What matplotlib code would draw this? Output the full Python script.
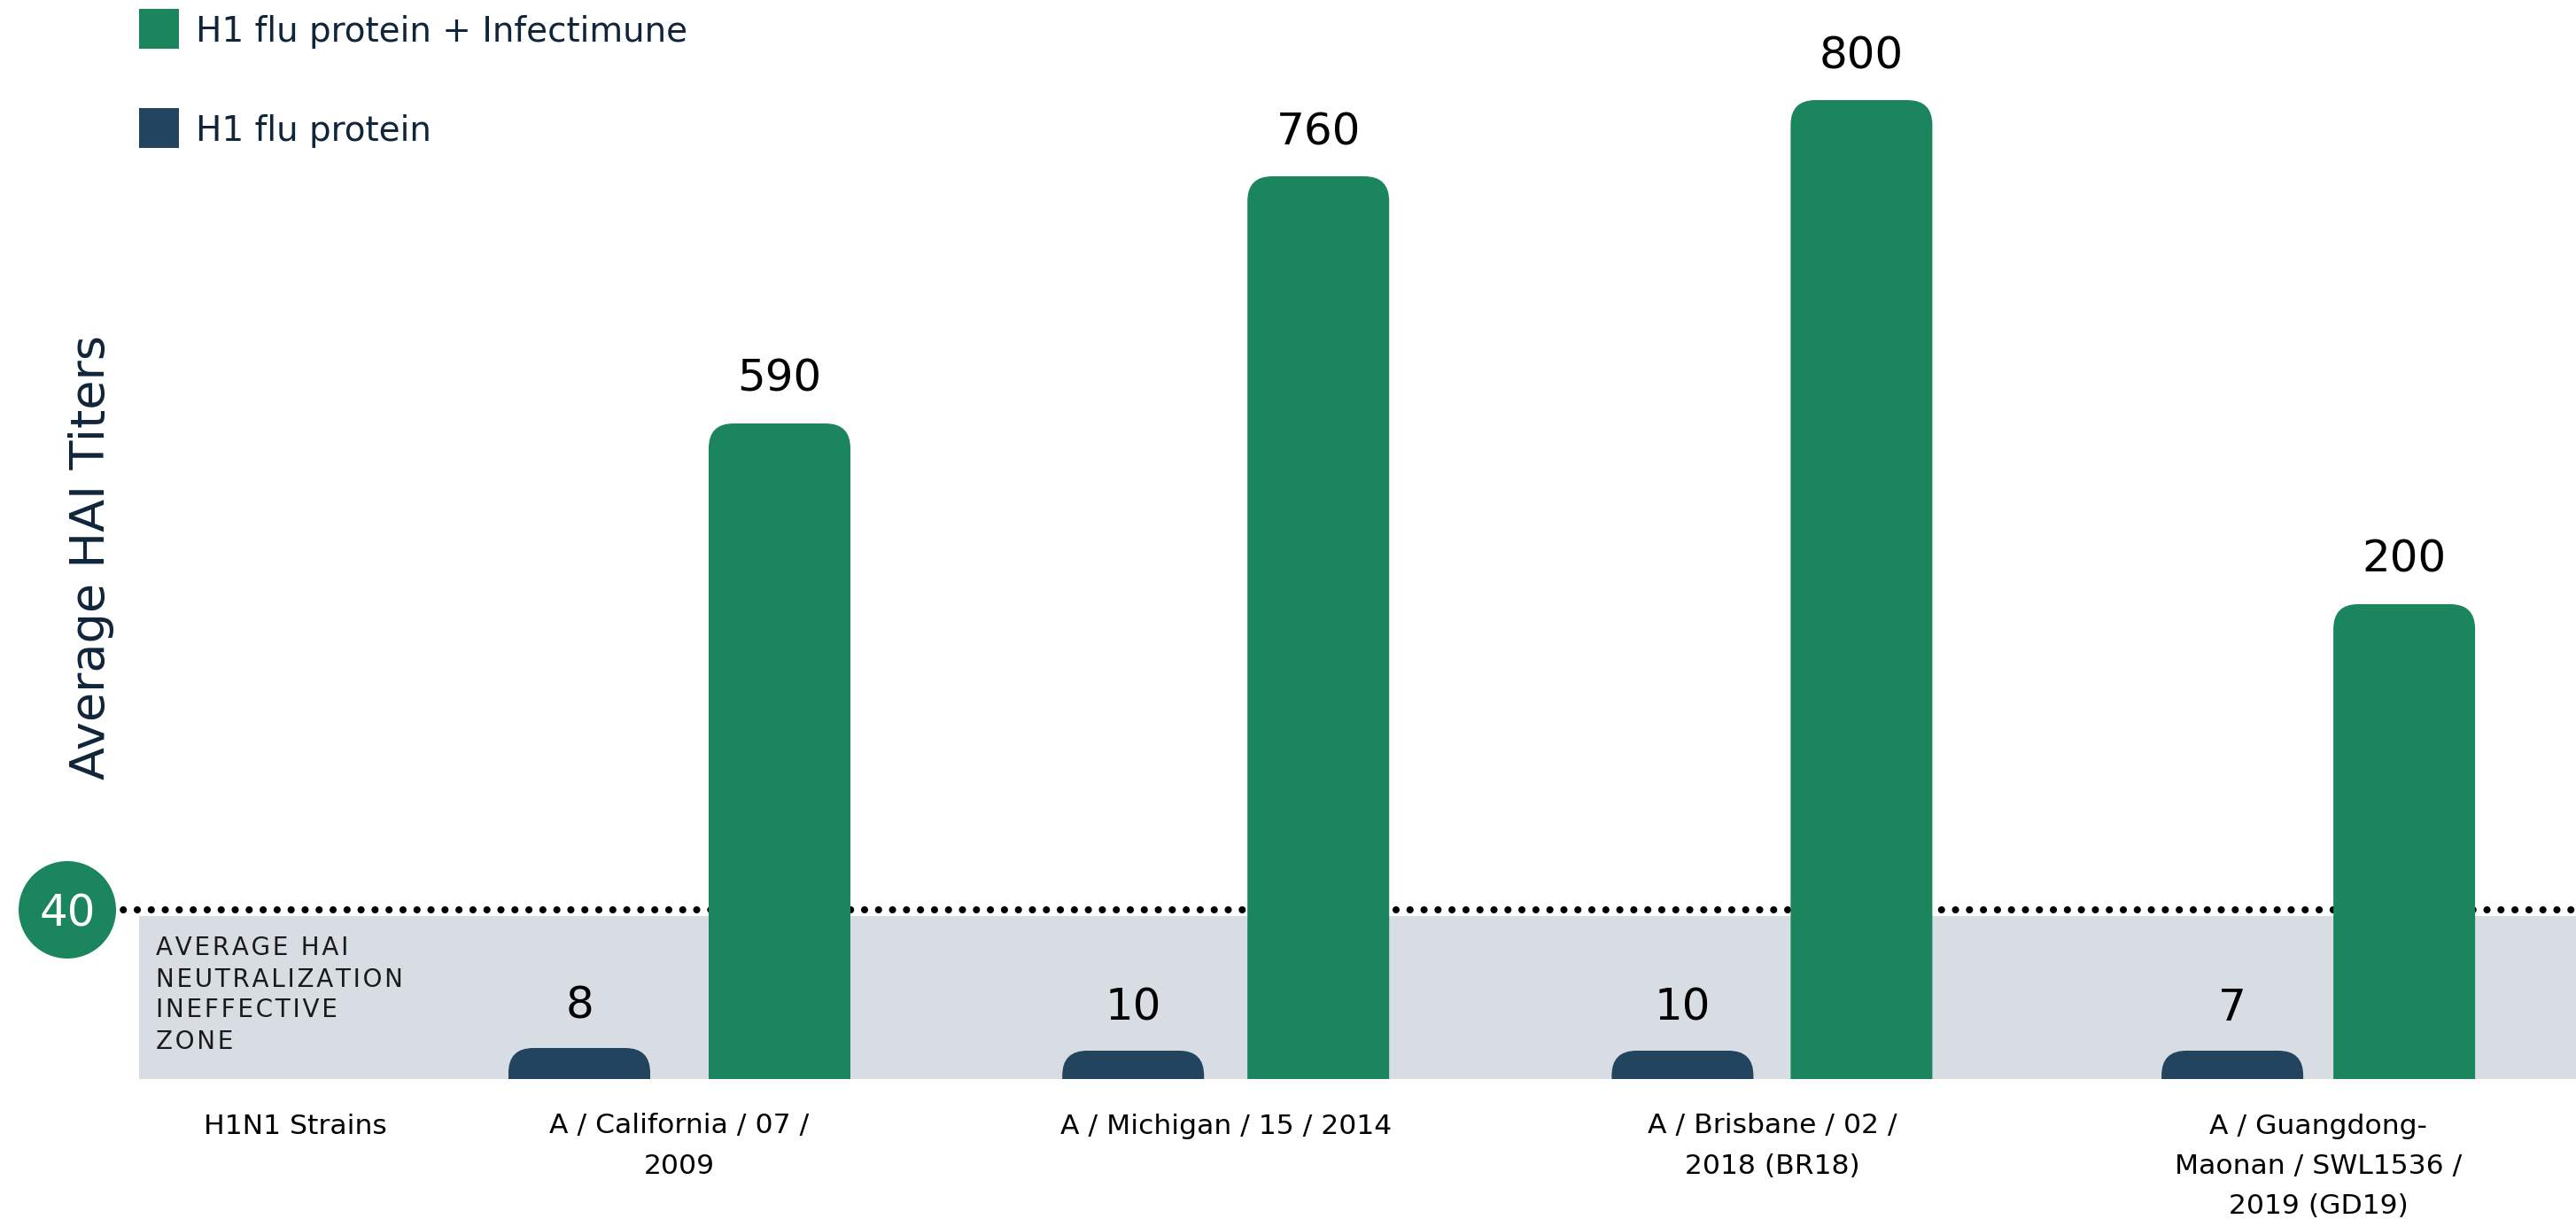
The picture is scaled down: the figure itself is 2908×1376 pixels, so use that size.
import matplotlib
matplotlib.use("Agg")
import matplotlib.pyplot as plt
from matplotlib.patches import FancyBboxPatch, Rectangle, Ellipse

# data
strains = ["A / California / 07 /\n2009",
           "A / Michigan / 15 / 2014",
           "A / Brisbane / 02 /\n2018 (BR18)",
           "A / Guangdong-\nMaonan / SWL1536 /\n2019 (GD19)"]
protein_titers = [8, 10, 10, 7]
combo_titers = [590, 760, 800, 200]
# the graphic is not to scale: drawn heights (px above baseline)
protein_heights = [35, 32, 32, 32]
combo_heights = [740, 1019, 1105, 536]
threshold = 40
threshold_height = 191
zone_height = 184
legend_labels = ["H1 flu protein + Infectimune", "H1 flu protein"]

GREEN = "#1b855e"
NAVY = "#23445e"
GRAY = "#d8dde3"
INK = "#10243a"

W, H = 2908, 1376
PX = 616.7          # pixels per category step
X1 = 767            # pixel of first category centre
pair_off = [113, 104.5, 101, 97]   # half distance between the two bars of a group, px


def px_x(p):
    return 1 + (p - X1) / PX


def fx(p):
    return p / W


def fy(p):
    return 1 - p / H


plt.rcParams['font.family'] = ['DejaVu Sans']

fig = plt.figure(figsize=(W / 200, H / 200), dpi=200)
ax = fig.add_axes([0, 0, 1, 1])
ax.set_xlim(px_x(0), px_x(W))
ax.set_ylim(-(H - 1218), 1218)
ax.axis('off')

x = [i + 1 for i in range(len(strains))]
offs = [p / PX for p in pair_off]
bw = 160 / PX

# ineffective zone + threshold line
ax.axhspan(0, zone_height, xmin=157 / W, xmax=1, color=GRAY, lw=0, zorder=0)
ax.axhline(threshold_height, xmin=76 / W, xmax=1, color="black", lw=2.9,
           linestyle=(0, (0.01, 1.95)), dash_capstyle="round", zorder=1)
ax.add_patch(Ellipse((px_x(76), threshold_height), 110 / PX, 110,
                     fc=GREEN, ec="none", zorder=4))
ax.text(px_x(76), threshold_height - 18.5, str(threshold), color="white",
        fontsize=18, ha="center", va="baseline", zorder=5)

zone_lines = ["AVERAGE HAI", "NEUTRALIZATION", "INEFFECTIVE", "ZONE"]
for i, line in enumerate(zone_lines):
    ax.text(px_x(176), 139.5 - 35 * i, "\u200a".join(line), fontsize=10,
            color="#1a1a1a", ha="left", va="baseline", zorder=2)

clip = Rectangle((px_x(0), 0), 10, 3000, transform=ax.transData)
r = 28


def round_tops(bars, color):
    for b in bars:
        bx, w, h = b.get_x(), b.get_width(), b.get_height()
        b.remove()
        p = FancyBboxPatch((bx, -r), w, h + r,
                           boxstyle=f"round,pad=0,rounding_size={r / PX}",
                           mutation_aspect=PX, fc=color, ec="none", zorder=3)
        ax.add_patch(p)
        p.set_clip_path(clip)


xp = [v - o for v, o in zip(x, offs)]
xc = [v + o for v, o in zip(x, offs)]
b1 = ax.bar(xp, protein_heights, width=bw, color=NAVY)
b2 = ax.bar(xc, combo_heights, width=bw, color=GREEN)
round_tops(b1, NAVY)
round_tops(b2, GREEN)

for xi, h, t in zip(xp, protein_heights, protein_titers):
    ax.text(xi, h + 34, str(t), fontsize=18, ha="center", va="baseline", color="black")
for xi, h, t in zip(xc, combo_heights, combo_titers):
    ax.text(xi, h + 36, str(t), fontsize=18, ha="center", va="baseline", color="black")

# category labels
ax.text(px_x(333), -61.5, "H1N1 Strains", fontsize=11.3, ha="center", va="baseline")
for xi, s in zip(x, strains):
    for j, line in enumerate(s.split("\n")):
        ax.text(xi, -61.5 - 45.5 * j, line, fontsize=11.3, ha="center", va="baseline")

# legend
for i, (lab, col) in enumerate(zip(legend_labels, [GREEN, NAVY])):
    top = 10 + 112 * i
    fig.patches.append(Rectangle((fx(157), fy(top + 45)), 45 / W, 45 / H,
                                 transform=fig.transFigure, fc=col, ec="none"))
    fig.text(fx(221), fy(top + 37), lab, fontsize=14, color=INK, va="baseline")

fig.text(fx(103), fy(629), "Average HAI Titers", rotation=90, fontsize=19.5,
         color=INK, ha="center", va="center")

fig.savefig("out.png", dpi=200)
